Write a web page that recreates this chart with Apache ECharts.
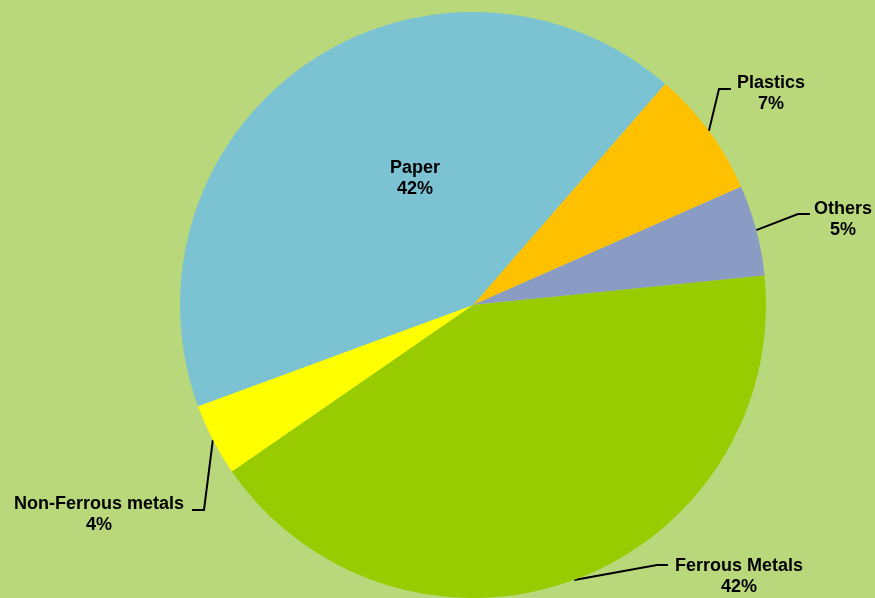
<!DOCTYPE html>
<html>
<head>
<meta charset="utf-8">
<style>
  html, body { margin: 0; padding: 0; background: #b9d87c; }
  #chart { width: 875px; height: 598px; }
</style>
<script src="https://cdn.jsdelivr.net/npm/echarts@6/dist/echarts.min.js"></script>
</head>
<body>
<div id="chart"></div>
<script>
// Slices clockwise, starting 41deg past 12 o'clock
const categories = ['Plastics', 'Others', 'Ferrous Metals', 'Non-Ferrous metals', 'Paper']
const shares = [7, 5, 42, 4, 42]

const colors = ['#ffc000', '#8b9cc4', '#99cc00', '#ffff00', '#7bc3d3']

// label block centres and leader elbows
const labelSpots = {
  'Plastics' : { x : 771, y : 94, elbow : [719, 89], end : [731, 89] },
  'Others' : { x : 843, y : 220, elbow : [798, 214], end : [810, 214] },
  'Ferrous Metals' : { x : 739, y : 577, elbow : [657, 565], end : [668, 565] },
  'Non-Ferrous metals' : { x : 99, y : 515, elbow : [204, 510], end : [192, 510] },
  'Paper' : { x : 415, y : 179 }
}

const chart = echarts.init( document.getElementById( 'chart' ), null, { renderer : 'canvas' } )

chart.setOption( {
  backgroundColor : '#b9d87c',
  animation : false,
  series : [
    {
      type : 'pie',
      center : [473, 305],
      radius : 293,
      startAngle : 49,
      clockwise : true,
      avoidLabelOverlap : false,
      silent : true,
      emphasis : { disabled : true },
      itemStyle : { borderWidth : 0 },
      label : {
        show : true,
        position : 'outside',
        formatter : '{b}\n{d}%',
        color : '#000',
        fontFamily : '"Liberation Sans", Arial, sans-serif',
        fontWeight : 'bold',
        fontSize : 18,
        lineHeight : 21,
        align : 'center'
      },
      labelLine : {
        show : true,
        smooth : false,
        length : 20,
        length2 : 10,
        lineStyle : { color : '#000', width : 2 }
      },
      labelLayout : params => {
        const spot = labelSpots[categories[params.dataIndex]]
        const out = { x : spot.x, y : spot.y, align : 'center', verticalAlign : 'middle' }
        if ( spot.elbow && params.labelLinePoints ) {
          out.labelLinePoints = [params.labelLinePoints[0], spot.elbow, spot.end]
        }
        return out
      },
      data : categories.map( ( name, i ) => ( {
        name,
        value : shares[i],
        itemStyle : { color : colors[i] },
        label : name === 'Paper' ? { position : 'inside' } : undefined,
        labelLine : name === 'Paper' ? { show : false } : undefined
      } ) )
    }
  ]
} )
</script>
</body>
</html>
